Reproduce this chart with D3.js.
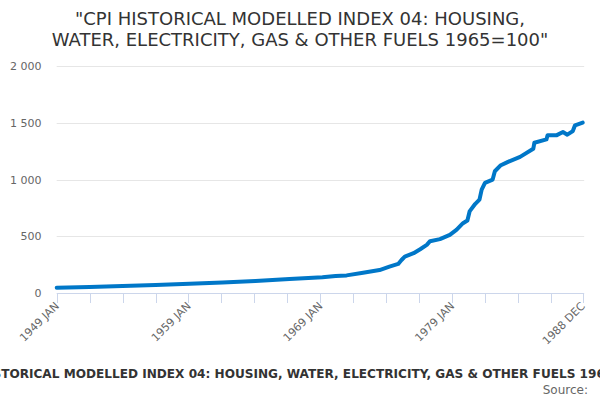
<!DOCTYPE html>
<html>
<head>
<meta charset="utf-8">
<script src="https://cdn.jsdelivr.net/npm/d3@7"></script>
<style>
  html, body { margin: 0; padding: 0; background: #fff; }
  svg { display: block; font-family: "DejaVu Sans", sans-serif; }
</style>
</head>
<body>
<svg id="chart" width="600" height="400"></svg>
<script>
// ---- Data ----
const years = d3.range(1949, 1989);
const monthNames = ["JAN","FEB","MAR","APR","MAY","JUN","JUL","AUG","SEP","OCT","NOV","DEC"];
const categories = years.flatMap(y => monthNames.map(m => y + " " + m));

const pointMonths = [
  "1949 JAN","1951 JUL","1954 JAN","1956 JUL","1959 FEB","1961 AUG","1964 FEB","1966 SEP",
  "1969 MAR","1970 MAR","1971 JAN","1972 APR","1973 JUL","1974 APR","1974 DEC","1975 MAR",
  "1975 JUN","1976 FEB","1976 AUG","1977 FEB","1977 MAY","1978 FEB","1978 NOV","1979 MAY",
  "1979 NOV","1980 MAR","1980 MAY","1980 OCT","1981 FEB","1981 APR","1981 JUL","1982 FEB",
  "1982 APR","1982 SEP","1983 APR","1984 MAR","1985 MAR","1985 APR","1986 MAR","1986 APR",
  "1986 DEC","1987 JUN","1987 OCT","1988 MAR","1988 MAY","1988 DEC"
];
const pointValues = [
  44, 50, 59, 67, 79, 91, 103, 121,
  136, 147, 153, 177, 200, 230, 254, 289,
  319, 349, 384, 422, 455, 473, 511, 555,
  614, 638, 718, 783, 822, 910, 970, 999,
  1073, 1123, 1156, 1200, 1271, 1325, 1354, 1392,
  1390, 1419, 1396, 1428, 1479, 1503
];

const yTicks = [0, 500, 1000, 1500, 2000];
const xTickStep = 30;              // months between axis ticks
const xLabelCategories = ["1949 JAN","1959 JAN","1969 JAN","1979 JAN","1988 DEC"];

const titleLines = ['"CPI HISTORICAL MODELLED INDEX 04: HOUSING,', 'WATER, ELECTRICITY, GAS & OTHER FUELS 1965=100"'];
const subtitleText = "CPI HISTORICAL MODELLED INDEX 04: HOUSING, WATER, ELECTRICITY, GAS & OTHER FUELS 1965=100";
const sourceText = "Source:";

// ---- Layout ----
const svg = d3.select("#chart");
const plotLeft = 56.7, plotRight = 582.7, plotTop = 66.3, plotBottom = 292.7;

const x = d3.scalePoint().domain(categories).range([plotLeft, plotRight]);
const y = d3.scaleLinear().domain([0, 2000]).range([plotBottom, plotTop]);

const fmt = v => d3.format(",")(v).replace(/,/g, " ");

// Title
svg.append("text")
  .attr("x", 300).attr("text-anchor", "middle")
  .attr("fill", "#333333").style("font-size", "18px")
  .selectAll("tspan").data(titleLines).join("tspan")
  .attr("x", 300).attr("y", (d, i) => 24.5 + i * 21.3)
  .text(d => d);

// Grid lines
svg.append("g").selectAll("line").data(yTicks.filter(t => t > 0)).join("line")
  .attr("x1", plotLeft).attr("x2", plotRight + 1.5)
  .attr("y1", d => Math.round(y(d)) + 0.5).attr("y2", d => Math.round(y(d)) + 0.5)
  .attr("stroke", "#e6e6e6").attr("stroke-width", 1);

// Y labels
svg.append("g").selectAll("text").data(yTicks).join("text")
  .attr("x", 41.5).attr("y", d => y(d) + 4)
  .attr("text-anchor", "end").attr("fill", "#666666").style("font-size", "11px")
  .text(d => fmt(d));

// X axis line
svg.append("line")
  .attr("x1", plotLeft).attr("x2", plotRight + 1.5)
  .attr("y1", Math.round(plotBottom) + 0.5).attr("y2", Math.round(plotBottom) + 0.5)
  .attr("stroke", "#ccd6eb").attr("stroke-width", 1);

// X ticks
const tickCats = categories.filter((c, i) => i % xTickStep === 0).concat([categories[categories.length - 1]]);
svg.append("g").selectAll("line").data(tickCats).join("line")
  .attr("x1", d => Math.round(x(d)) + 0.5).attr("x2", d => Math.round(x(d)) + 0.5)
  .attr("y1", Math.round(plotBottom)).attr("y2", Math.round(plotBottom) + 10)
  .attr("stroke", "#ccd6eb").attr("stroke-width", 1);

// X labels
svg.append("g").selectAll("text").data(xLabelCategories).join("text")
  .attr("transform", d => `translate(${x(d) + 3},${plotBottom + 14}) rotate(-45)`)
  .attr("text-anchor", "end").attr("fill", "#666666").style("font-size", "11px")
  .text(d => d);

// Line
const pts = pointMonths.map((m, i) => ({ m, v: pointValues[i] }));
svg.append("path")
  .datum(pts)
  .attr("fill", "none")
  .attr("stroke", "#0077c8")
  .attr("stroke-width", 4)
  .attr("stroke-linejoin", "round")
  .attr("stroke-linecap", "round")
  .attr("d", d3.line().x(d => x(d.m)).y(d => y(d.v)));

// Subtitle (bottom) and source
svg.append("text")
  .attr("x", 300).attr("y", 377.5).attr("text-anchor", "middle")
  .attr("fill", "#333333").style("font-size", "12.1px").style("font-weight", "bold")
  .text(subtitleText);

svg.append("text")
  .attr("x", 588).attr("y", 394).attr("text-anchor", "end")
  .attr("fill", "#666666").style("font-size", "12px")
  .text(sourceText);
</script>
</body>
</html>
